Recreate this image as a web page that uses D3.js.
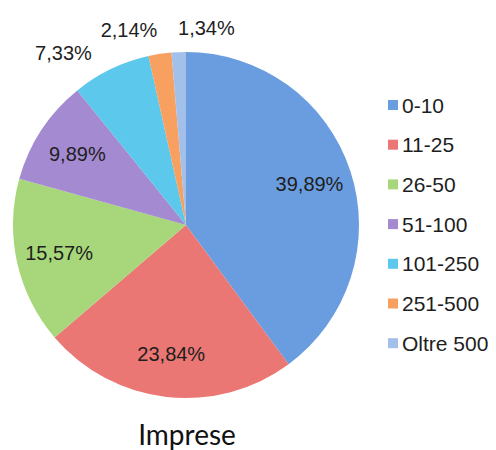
<!DOCTYPE html>
<html>
<head>
<meta charset="utf-8">
<script src="https://cdn.jsdelivr.net/npm/d3@7"></script>
<style>
  body { margin: 0; background: #fff; }
</style>
</head>
<body>
<div id="chart"></div>
<script>
const categories = ["0-10", "11-25", "26-50", "51-100", "101-250", "251-500", "Oltre 500"];
const values = [39.89, 23.84, 15.57, 9.89, 7.33, 2.14, 1.34];
const labels = ["39,89%", "23,84%", "15,57%", "9,89%", "7,33%", "2,14%", "1,34%"];
const colors = ["#6a9de0", "#ea7773", "#a7d77a", "#a48ad0", "#5cc8ec", "#f8a060", "#a3c0ea"];
const title = "Imprese";

const width = 496, height = 450;
const cx = 186, cy = 225, radius = 173;
const font = "'Liberation Sans', Arial, sans-serif";

const data = categories.map((c, i) => ({name: c, value: values[i], label: labels[i], color: colors[i]}));

const svg = d3.select("#chart")
    .append("svg")
    .attr("width", width)
    .attr("height", height)
    .style("font-family", font);

const g = svg.append("g")
    .attr("transform", `translate(${cx}, ${cy})`);

const pie = d3.pie()
    .value(d => d.value)
    .sort(null);

const arc = d3.arc()
    .innerRadius(0)
    .outerRadius(radius);

const labelArc = d3.arc()
    .innerRadius(130)
    .outerRadius(130);

const outerR = 190;

const arcs = pie(data);

g.selectAll("path")
    .data(arcs)
    .enter().append("path")
    .attr("d", arc)
    .attr("fill", d => d.data.color);

// small slices get their label outside, like the original
const inside = arcs.filter(d => d.data.value >= 9);
const outside = arcs.filter(d => d.data.value < 9);

g.selectAll("text.in")
    .data(inside)
    .enter().append("text")
    .attr("class", "in")
    .attr("transform", d => "translate(" + labelArc.centroid(d) + ")")
    .attr("text-anchor", "middle")
    .attr("dy", "0.35em")
    .attr("font-size", 20)
    .attr("fill", "#1e1e1e")
    .text(d => d.data.label);

// outside labels: place at the slice mid angle, then resolve overlaps
const outs = outside.map(function(d) {
    const t = g.append("text")
        .attr("font-size", 20)
        .attr("fill", "#1e1e1e")
        .text(d.data.label);
    const a = (d.startAngle + d.endAngle) / 2;
    // labels sitting right at the top go to the right of the axis
    const anchor = (Math.sin(a) < 0 && Math.abs(Math.sin(a)) > 0.1) ? "end" : "start";
    return {node: t, angle: a, w: t.node().getComputedTextLength(), anchor: anchor};
});

function place(o) {
    o.x = outerR * Math.sin(o.angle);
    o.y = -outerR * Math.cos(o.angle);
    o.left = o.anchor === "end" ? o.x - o.w : o.x;
    o.right = o.left + o.w;
    o.top = o.y - 15;
    o.bottom = o.y + 4;
}
function overlap(a, b) {
    const pad = 8;
    return a.left < b.right + pad && b.left < a.right + pad &&
        a.top < b.bottom + pad && b.top < a.bottom + pad;
}
outs.forEach(place);
for (let i = outs.length - 2; i >= 0; i--) {
    let guard = 0;
    while (overlap(outs[i], outs[i + 1]) && guard++ < 60) {
        outs[i].angle -= Math.PI / 360;
        place(outs[i]);
    }
}
outs.forEach(o => o.node.attr("x", o.x).attr("y", o.y).attr("text-anchor", o.anchor));

// legend
const legend = svg.append("g")
    .attr("transform", "translate(388, 105)");

const rowH = 39.7;
const row = legend.selectAll("g")
    .data(data)
    .enter().append("g")
    .attr("transform", (d, i) => `translate(0, ${i * rowH})`);

row.append("rect")
    .attr("x", 0)
    .attr("y", -5)
    .attr("width", 10)
    .attr("height", 10)
    .attr("fill", d => d.color);

row.append("text")
    .attr("x", 14)
    .attr("dy", "0.36em")
    .attr("font-size", 21)
    .attr("fill", "#1e1e1e")
    .text(d => d.name);

svg.append("text")
    .attr("x", 187)
    .attr("y", 445)
    .attr("text-anchor", "middle")
    .style("font-family", "Lato, sans-serif")
    .attr("font-size", 28)
    .attr("fill", "#111")
    .text(title);
</script>
</body>
</html>
